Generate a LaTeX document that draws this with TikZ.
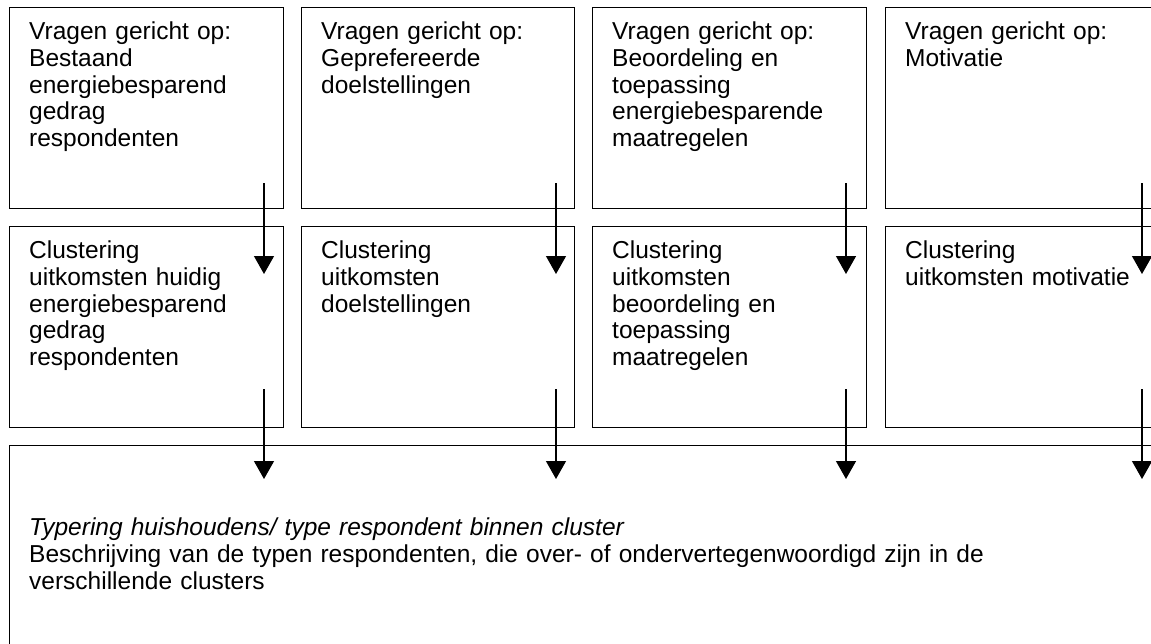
\documentclass[tikz,border=0pt]{standalone}
\usepackage{fontspec}
\setmainfont{Liberation Sans}
\usetikzlibrary{arrows.meta}
\begin{document}
\begin{tikzpicture}[x=1pt,y=-1pt,
  boxstyle/.style={draw,line width=1.3pt,rectangle,inner sep=0pt,anchor=north west},
  txt/.style={anchor=north west,inner sep=0pt,align=left,text width=#1,
    font=\fontsize{24.5}{26.8}\selectfont},
  txt/.default=255pt,
  flow/.style={line width=1.3pt,-{Triangle[width=20pt,length=18pt]}}]
\clip (0,0) rectangle (1151,643);
% top row
\node[boxstyle,minimum width=273.5pt,minimum height=200.5pt] (q1) at (9,7) {};
\node[boxstyle,minimum width=273pt,minimum height=200.5pt] (q2) at (301,7) {};
\node[boxstyle,minimum width=274pt,minimum height=200.5pt] (q3) at (592,7) {};
\node[boxstyle,minimum width=280pt,minimum height=200.5pt] (q4) at (885,7) {};
% middle row
\node[boxstyle,minimum width=273.5pt,minimum height=201pt] (c1) at (9,226) {};
\node[boxstyle,minimum width=273pt,minimum height=201pt] (c2) at (301,226) {};
\node[boxstyle,minimum width=274pt,minimum height=201pt] (c3) at (592,226) {};
\node[boxstyle,minimum width=280pt,minimum height=201pt] (c4) at (885,226) {};
% bottom
\node[boxstyle,minimum width=1160pt,minimum height=230pt] (res) at (9,444.5) {};
% texts
\node[txt] (tq1) at (29,20.5) {\strut Vragen gericht op:\\Bestaand\\energiebesparend\\gedrag\\respondenten};
\node[txt] (tq2) at (321,20.5) {\strut Vragen gericht op:\\Geprefereerde\\doelstellingen};
\node[txt] (tq3) at (612,20.5) {\strut Vragen gericht op:\\Beoordeling en\\toepassing\\energiebesparende\\maatregelen};
\node[txt] (tq4) at (905,20.5) {\strut Vragen gericht op:\\Motivatie};
\node[txt] (tc1) at (29,239.5) {\strut Clustering\\uitkomsten huidig\\energiebesparend\\gedrag\\respondenten};
\node[txt] (tc2) at (321,239.5) {\strut Clustering\\uitkomsten\\doelstellingen};
\node[txt] (tc3) at (612,239.5) {\strut Clustering\\uitkomsten\\beoordeling en\\toepassing\\maatregelen};
\node[txt] (tc4) at (905,239.5) {\strut Clustering\\uitkomsten motivatie};
\node[txt=1100pt] (tres) at (29,517) {\strut\textit{Typering huishoudens/ type respondent binnen cluster}\\Beschrijving van de typen respondenten, die over- of ondervertegenwoordigd zijn in de\\verschillende clusters};
% arrows
\coordinate (a1s) at (264,183); \coordinate (a1e) at (264,274);
\coordinate (a2s) at (556,183); \coordinate (a2e) at (556,274);
\coordinate (a3s) at (846,183); \coordinate (a3e) at (846,274);
\coordinate (a4s) at (1142,183); \coordinate (a4e) at (1142,274);
\coordinate (b1s) at (264,389); \coordinate (b1e) at (264,479);
\coordinate (b2s) at (556,389); \coordinate (b2e) at (556,479);
\coordinate (b3s) at (846,389); \coordinate (b3e) at (846,479);
\coordinate (b4s) at (1142,389); \coordinate (b4e) at (1142,479);
\foreach \p in {a1,a2,a3,a4,b1,b2,b3,b4}
  \draw[flow] (\p s) -- (\p e);
\end{tikzpicture}
\end{document}
